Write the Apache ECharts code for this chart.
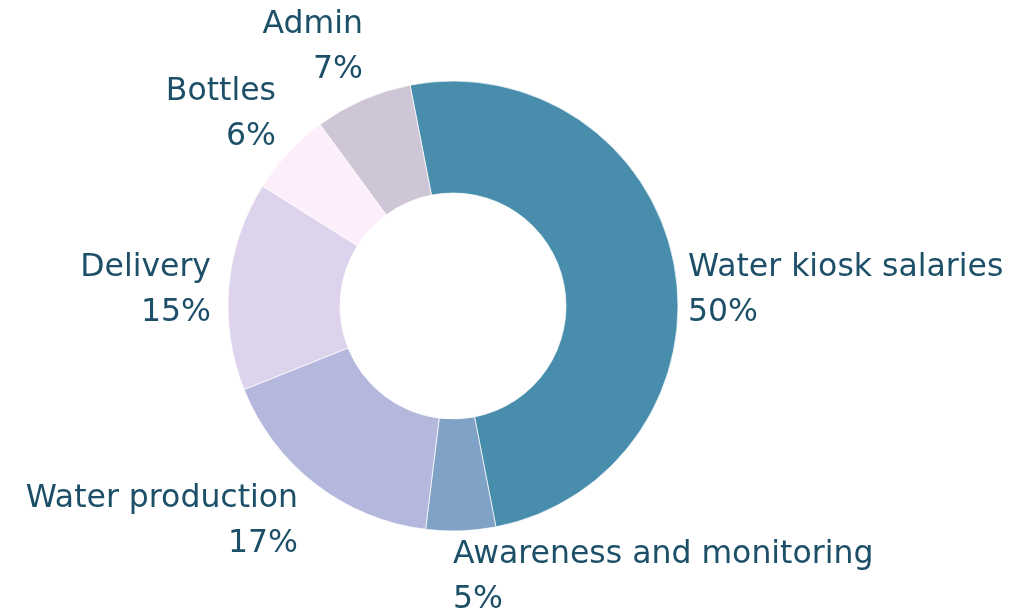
<!DOCTYPE html>
<html>
<head>
<meta charset="utf-8">
<style>
  html, body { margin: 0; padding: 0; background: #ffffff; }
  #chart { width: 1010px; height: 613px; }
</style>
<script src="https://cdn.jsdelivr.net/npm/echarts@6/dist/echarts.min.js"></script>
</head>
<body>
<div id="chart"></div>
<script>
// ---- data ----
var categories = ['Water kiosk salaries', 'Awareness and monitoring', 'Water production', 'Delivery', 'Bottles', 'Admin'];
var shares = [50, 5, 17, 15, 6, 7];
var colors = ['#488EAC', '#7FA2C6', '#B3B8DC', '#DDD3EC', '#FDEEFC', '#CEC6D6'];

// ---- label layout (offsets of each label's anchor from the pie centre, px) ----
var labelOffsets = [
  { dx: 235, dy: -16, align: 'left' },
  { dx: 0, dy: 271, align: 'left' },
  { dx: -155, dy: 215, align: 'right' },
  { dx: -242, dy: -16, align: 'right' },
  { dx: -177, dy: -192, align: 'right' },
  { dx: -90, dy: -259, align: 'right' }
];

var center = [453, 306];

var chart = echarts.init(document.getElementById('chart'), null, { renderer: 'canvas' });

var seriesData = categories.map(function (name, i) {
  return { name: name, value: shares[i], itemStyle: { color: colors[i] } };
});

chart.setOption({
  animation: false,
  backgroundColor: '#ffffff',
  series: [{
    type: 'pie',
    center: center,
    radius: [113, 225],
    startAngle: 101,
    clockwise: true,
    avoidLabelOverlap: false,
    percentPrecision: 0,
    itemStyle: { borderColor: '#ffffff', borderWidth: 0.7 },
    label: {
      show: true,
      position: 'outside',
      formatter: '{b}\n{d}%',
      fontFamily: 'DejaVu Sans',
      fontSize: 31.5,
      lineHeight: 45,
      color: '#1D5068'
    },
    labelLine: { show: false },
    labelLayout: function (params) {
      var o = labelOffsets[params.dataIndex];
      return {
        x: center[0] + o.dx,
        y: center[1] + o.dy,
        align: o.align,
        verticalAlign: 'middle'
      };
    },
    emphasis: { disabled: true },
    data: seriesData
  }]
});
</script>
</body>
</html>
